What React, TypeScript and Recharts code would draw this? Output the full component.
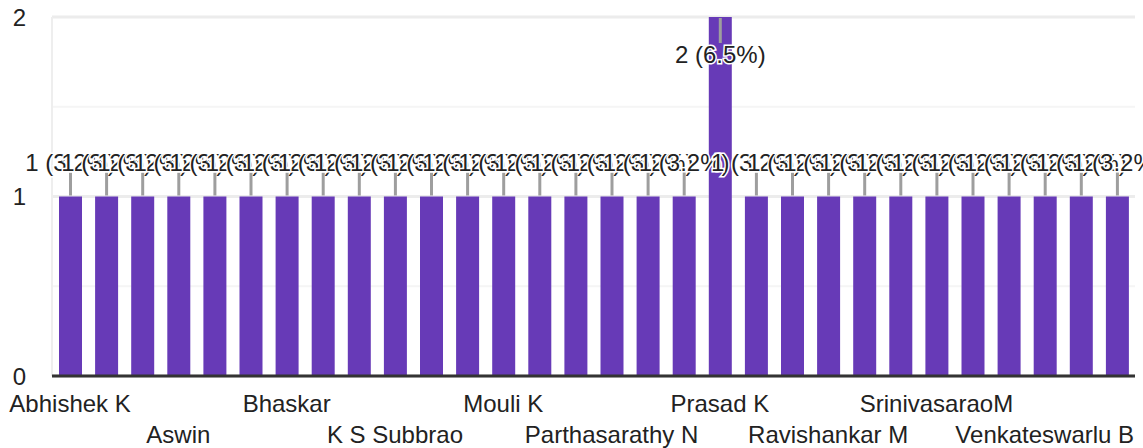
import React from "react";
import { BarChart, Bar, XAxis, YAxis, CartesianGrid, LabelList } from "recharts";

const categories = [
  "Abhishek K", "Anand R", "Arun Kumar",
  "Aswin", "Balaji S", "Bharath",
  "Bhaskar", "Ganesh", "Hari Prasad",
  "K S Subbrao", "Krishna M", "Mohan Rao",
  "Mouli K", "Murali", "Nagaraju",
  "Parthasarathy N", "Prabhakar", "Pradeep",
  "Prasad K", "Raghu", "Ramesh",
  "Ravishankar M", "Satish", "Sridhar",
  "SrinivasaraoM", "Suresh", "Venkat",
  "Venkateswarlu B", "Vijay", "Y Rao",
];
const counts = [
  1, 1, 1, 1, 1, 1, 1, 1, 1, 1,
  1, 1, 1, 1, 1, 1, 1, 1, 2, 1,
  1, 1, 1, 1, 1, 1, 1, 1, 1, 1,
];
const yTicks = [0, 1, 2];
const minorTicks = [0.5, 1.5];

const total = counts.reduce((a, b) => a + b, 0);
const data = categories.map((name, i) => ({ name, count: counts[i] }));

const FONT = "Arial, 'Liberation Sans', sans-serif";

const renderLabel = (props: any) => {
  const { x, y, width, value, index } = props;
  const cx = x + width / 2;
  const pct = ((value / total) * 100).toFixed(1);
  const text = `${value} (${pct}%)`;
  const inside = y < 60;
  const y1 = inside ? y + 1 : y - 1;
  const y2 = inside ? y + 26 : y - 25;
  const ty = inside ? y + 46 : y - 26;
  return (
    <g key={`lbl-${index}`}>
      <line x1={cx} x2={cx} y1={y1} y2={y2} stroke="#9e9e9e" strokeWidth={3} />
      <text
        x={cx}
        y={ty}
        textAnchor="middle"
        fontSize={24}
        fontFamily={FONT}
        fill="#222"
        stroke="#fff"
        strokeWidth={3}
        style={{ paintOrder: "stroke" }}
      >
        {text}
      </text>
    </g>
  );
};

const XTick = (props: any) => {
  const { x, y, payload, index } = props;
  if (index % 3 !== 0) return <g />;
  const row = (index / 3) % 2;
  return (
    <text
      x={x}
      y={y + (row === 0 ? 36 : 67)}
      textAnchor="middle"
      fontSize={24}
      fontFamily={FONT}
      fill="#222"
    >
      {payload.value}
    </text>
  );
};

export default function App() {
  return (
    <div style={{ width: 1143, height: 448, overflow: "hidden", position: "relative" }}>
      <style>{`body{margin:0;}`}</style>
      <BarChart
        width={1143}
        height={448}
        data={data}
        margin={{ top: 17, right: 8, bottom: 0, left: 0 }}
      >
        <CartesianGrid
          vertical={false}
          horizontalValues={minorTicks}
          stroke="#f5f5f5"
          strokeWidth={2}
        />
        <CartesianGrid vertical={false} stroke="#ececec" strokeWidth={3} />
        <YAxis
          width={52}
          domain={[0, 2]}
          ticks={yTicks}
          interval={0}
          tickLine={false}
          tickSize={0}
          tickMargin={26}
          axisLine={{ stroke: "#eeeeee", strokeWidth: 2 }}
          tick={{ fontSize: 24, fontFamily: FONT, fill: "#222" }}
        />
        <XAxis
          dataKey="name"
          height={72}
          interval={0}
          tickLine={false}
          tickSize={0}
          tickMargin={0}
          axisLine={{ stroke: "#333", strokeWidth: 3 }}
          tick={<XTick />}
        />
        <Bar dataKey="count" fill="#673ab7" barSize={23} isAnimationActive={false}>
          <LabelList dataKey="count" content={renderLabel} />
        </Bar>
      </BarChart>
    </div>
  );
}
